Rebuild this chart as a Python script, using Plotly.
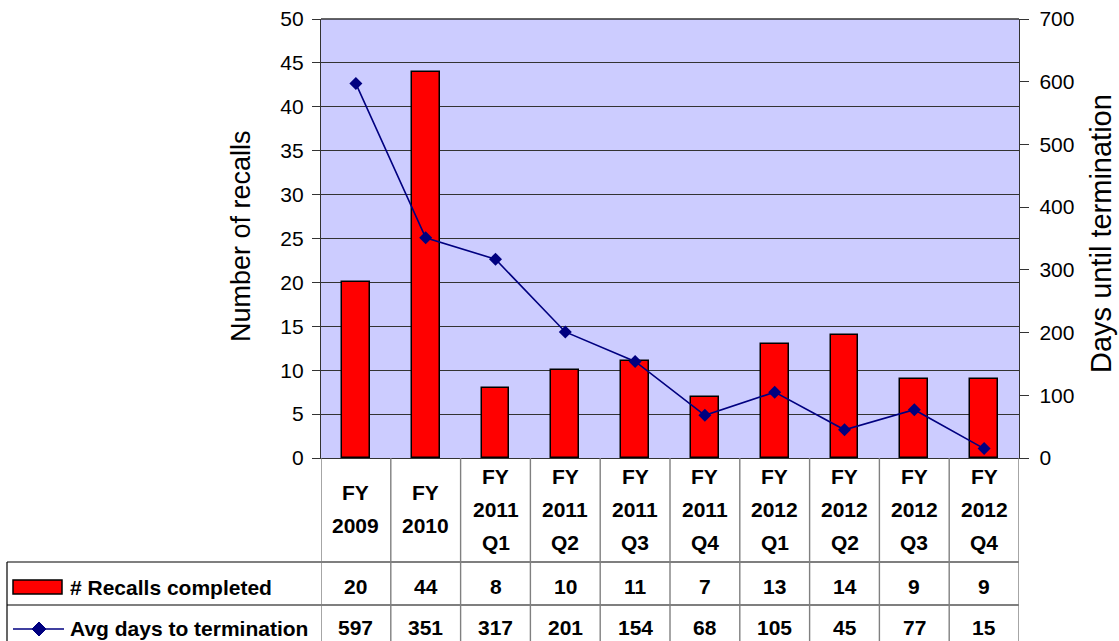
import plotly.graph_objects as go

categories = ["FY 2009", "FY 2010", "FY 2011 Q1", "FY 2011 Q2", "FY 2011 Q3",
              "FY 2011 Q4", "FY 2012 Q1", "FY 2012 Q2", "FY 2012 Q3", "FY 2012 Q4"]
recalls = [20, 44, 8, 10, 11, 7, 13, 14, 9, 9]
avg_days = [597, 351, 317, 201, 154, 68, 105, 45, 77, 15]
series_names = ["# Recalls completed", "Avg days to termination"]
left_title = "Number of recalls"
right_title = "Days until termination"

W, H = 1119, 641
L, R, T, B = 321, 1019, 19, 458  # plot area in pixels
FONT = "Liberation Sans, Arial, sans-serif"
TS = 21  # table font size


def py(p):
    return (B - p) / (B - T)


def px(p):
    return (p - L) / (R - L)


fig = go.Figure()
fig.add_trace(go.Bar(x=categories, y=recalls, name=series_names[0],
                     marker=dict(color="#FF0000", line=dict(color="#000000", width=1.5)),
                     width=0.4, yaxis="y"))
fig.add_trace(go.Scatter(x=categories, y=avg_days, name=series_names[1], mode="lines+markers",
                         line=dict(color="#000080", width=1.6),
                         marker=dict(symbol="diamond", size=10, color="#000080"),
                         yaxis="y2"))

shapes = []
annotations = []

# table grid
row_tops = [562, 605]
for yy in row_tops:
    shapes.append(dict(type="line", xref="paper", yref="paper", x0=px(7), x1=px(R),
                       y0=py(yy), y1=py(yy), line=dict(color="#000000", width=1.2)))
shapes.append(dict(type="line", xref="paper", yref="paper", x0=px(7), x1=px(7),
                   y0=py(562), y1=py(660), line=dict(color="#000000", width=1.2)))
for i in range(len(categories) + 1):
    shapes.append(dict(type="line", xref="x", yref="paper", x0=i - 0.5, x1=i - 0.5,
                       y0=py(B), y1=py(660), line=dict(color="#808080", width=1.4)))

# header labels
for i, c in enumerate(categories):
    parts = c.split(" ")
    n = len(parts)
    for k, t in enumerate(parts):
        yc = 509 + (k - (n - 1) / 2) * 33
        annotations.append(dict(x=i, xref="x", y=py(yc), yref="paper", text="<b>%s</b>" % t,
                                showarrow=False, font=dict(family=FONT, size=TS, color="#000"),
                                xanchor="center", yanchor="middle"))
    annotations.append(dict(x=i, xref="x", y=py(586), yref="paper", text="<b>%d</b>" % recalls[i],
                            showarrow=False, font=dict(family=FONT, size=TS, color="#000"),
                            xanchor="center", yanchor="middle"))
    annotations.append(dict(x=i, xref="x", y=py(627), yref="paper", text="<b>%d</b>" % avg_days[i],
                            showarrow=False, font=dict(family=FONT, size=TS, color="#000"),
                            xanchor="center", yanchor="middle"))

# legend keys
shapes.append(dict(type="rect", xref="paper", yref="paper", x0=px(13), x1=px(62),
                   y0=py(594), y1=py(580), fillcolor="#FF0000", line=dict(color="#000", width=1.5)))
shapes.append(dict(type="line", xref="paper", yref="paper", x0=px(13), x1=px(64),
                   y0=py(629), y1=py(629), line=dict(color="#000080", width=1.6)))
cx, cy, r = 39, 629, 7
path = "M %f,%f L %f,%f L %f,%f L %f,%f Z" % (
    px(cx - r), py(cy), px(cx), py(cy - r), px(cx + r), py(cy), px(cx), py(cy + r))
shapes.append(dict(type="path", xref="paper", yref="paper", path=path,
                   fillcolor="#000080", line=dict(color="#000080", width=1)))
annotations.append(dict(x=px(68), xref="paper", y=py(587), yref="paper",
                        text="<b>%s</b>" % series_names[0], showarrow=False,
                        font=dict(family=FONT, size=TS, color="#000"), xanchor="left", yanchor="middle"))
annotations.append(dict(x=px(68), xref="paper", y=py(628), yref="paper",
                        text="<b>%s</b>" % series_names[1], showarrow=False,
                        font=dict(family=FONT, size=TS, color="#000"), xanchor="left", yanchor="middle"))

# axis titles
annotations.append(dict(x=px(241), xref="paper", y=py(236), yref="paper", text=left_title,
                        textangle=-90, showarrow=False, font=dict(family=FONT, size=27, color="#000"),
                        xanchor="center", yanchor="middle"))
annotations.append(dict(x=px(1101), xref="paper", y=py(234), yref="paper", text=right_title,
                        textangle=-90, showarrow=False, font=dict(family=FONT, size=29, color="#000"),
                        xanchor="center", yanchor="middle"))

# top border of plot
shapes.append(dict(type="line", xref="paper", yref="paper", x0=0, x1=1, y0=1, y1=1,
                   line=dict(color="#333", width=1.4)))

fig.update_layout(
    width=W, height=H,
    margin=dict(l=L, r=W - R, t=T, b=H - B, pad=0, autoexpand=False),
    paper_bgcolor="#FFFFFF", plot_bgcolor="#CCCCFF",
    showlegend=False, bargap=0,
    font=dict(family=FONT, size=21, color="#000"),
    xaxis=dict(type="category", showticklabels=False, ticks="", showgrid=False, automargin=False,
               showline=True, linecolor="#333", linewidth=1.4, range=[-0.5, 9.5], zeroline=False),
    yaxis=dict(range=[0, 50], dtick=5, ticks="outside", ticklen=8, tickcolor="#333", tickwidth=1.4,
               showline=True, linecolor="#333", linewidth=1.4, showgrid=True, gridcolor="#333",
               gridwidth=1.2, zeroline=False, ticklabelstandoff=4, automargin=False,
               tickfont=dict(family=FONT, size=21, color="#000")),
    yaxis2=dict(range=[0, 700], dtick=100, overlaying="y", side="right", ticks="outside", ticklen=9,
                tickcolor="#333", tickwidth=1.4, showline=True, linecolor="#333", linewidth=1.4,
                showgrid=False, zeroline=False, ticklabelstandoff=6, automargin=False,
                tickfont=dict(family=FONT, size=21, color="#000")),
    shapes=shapes, annotations=annotations,
)

fig.write_html("out.html", config={"displayModeBar": False},
               post_script="document.body.style.margin='0';document.body.style.overflow='hidden';")
